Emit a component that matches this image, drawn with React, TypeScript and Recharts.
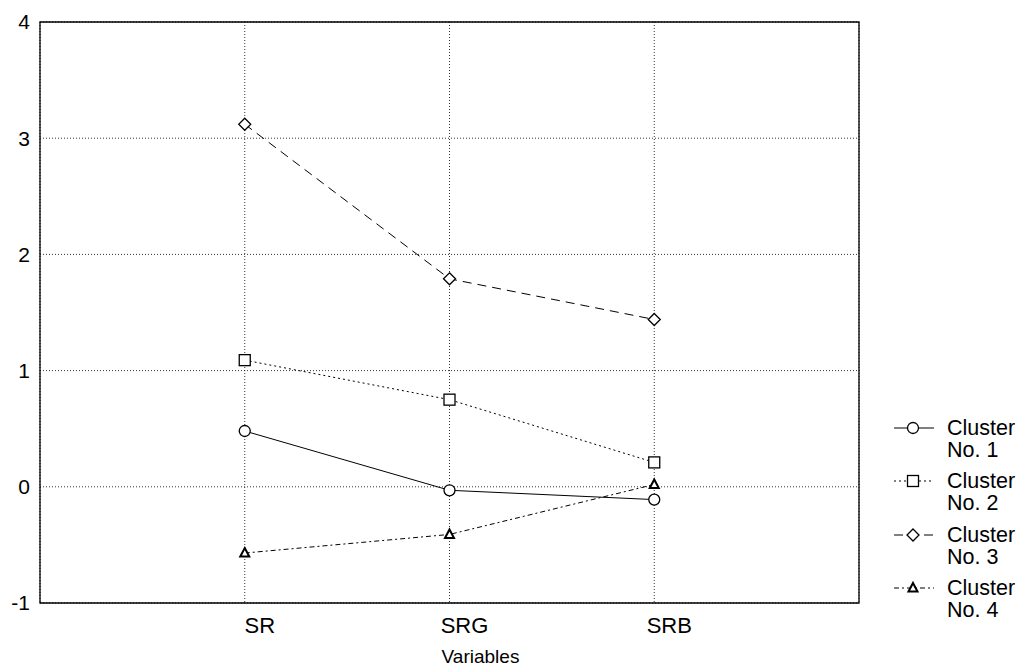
import React from "react";
import {
  LineChart,
  Line,
  XAxis,
  YAxis,
  CartesianGrid,
  ReferenceArea,
} from "recharts";

const categories = ["SR", "SRG", "SRB"];
const cluster1 = [0.48, -0.03, -0.11];
const cluster2 = [1.09, 0.75, 0.21];
const cluster3 = [3.12, 1.79, 1.44];
const cluster4 = [-0.57, -0.41, 0.02];
const seriesNames = ["Cluster No. 1", "Cluster No. 2", "Cluster No. 3", "Cluster No. 4"];
const yTicks = [-1, 0, 1, 2, 3, 4];
const innerTicks = yTicks.slice(0, -1).flatMap((t) => [t, t + 0.25, t + 0.5, t + 0.75]).slice(1);

const data = categories.map((cat, i) => ({
  pos: i + 1,
  cat,
  c1: cluster1[i],
  c2: cluster2[i],
  c3: cluster3[i],
  c4: cluster4[i],
}));

const FONT = "'Liberation Sans', Arial, sans-serif";

type Shape = "circle" | "square" | "diamond" | "triangle";

function Marker({ shape, cx, cy }: { shape: Shape; cx: number; cy: number }) {
  if (shape === "circle")
    return <circle cx={cx} cy={cy} r={5.5} fill="#fff" stroke="#000" strokeWidth={1.3} />;
  if (shape === "square")
    return <rect x={cx - 5.5} y={cy - 5.5} width={11} height={11} fill="#fff" stroke="#000" strokeWidth={1.3} />;
  if (shape === "diamond")
    return (
      <polygon
        points={`${cx},${cy - 6} ${cx + 6},${cy} ${cx},${cy + 6} ${cx - 6},${cy}`}
        fill="#fff"
        stroke="#000"
        strokeWidth={1.3}
      />
    );
  return (
    <polygon
      points={`${cx},${cy - 5} ${cx + 4.5},${cy + 3.5} ${cx - 4.5},${cy + 3.5}`}
      fill="#fff"
      stroke="#000"
      strokeWidth={2}
    />
  );
}

const series = [
  { key: "c1", shape: "circle" as Shape, dash: undefined },
  { key: "c2", shape: "square" as Shape, dash: "2 3" },
  { key: "c3", shape: "diamond" as Shape, dash: "9 6" },
  { key: "c4", shape: "triangle" as Shape, dash: "5 3 2 3" },
];

function makeDot(shape: Shape) {
  return (props: { cx?: number; cy?: number; index?: number }) => (
    <Marker key={`${shape}-${props.index}`} shape={shape} cx={props.cx ?? 0} cy={props.cy ?? 0} />
  );
}

function ClusterLegend() {
  return (
    <div
      style={{
        position: "absolute",
        left: 892,
        top: 417,
        width: 126,
        fontFamily: FONT,
        fontSize: 21.5,
        color: "#000",
      }}
    >
      {series.map((s, i) => {
        const words = seriesNames[i].split(" ");
        return (
          <div key={s.key} style={{ display: "flex", alignItems: "flex-start", height: 53.3 }}>
            <svg width={55} height={22} style={{ flex: "none" }}>
              <line x1={2} x2={42} y1={11} y2={11} stroke="#000" strokeWidth={1} strokeDasharray={s.dash} />
              <Marker shape={s.shape} cx={21} cy={11} />
            </svg>
            <div style={{ lineHeight: "22px", whiteSpace: "nowrap" }}>
              <div>{words[0]}</div>
              <div>{words.slice(1).join(" ")}</div>
            </div>
          </div>
        );
      })}
    </div>
  );
}

export default function App() {
  return (
    <div style={{ position: "absolute", left: 0, top: 0, width: 1018, height: 668, background: "#fff" }}>
      <LineChart
        width={1018}
        height={668}
        data={data}
        margin={{ top: 22, right: 159, bottom: 0, left: 0 }}
      >
        <CartesianGrid stroke="#000" strokeDasharray="1 2" strokeWidth={0.8} />
        <XAxis
          dataKey="pos"
          type="number"
          domain={[0, 4]}
          ticks={[1, 2, 3]}
          tickFormatter={(v: number) => categories[v - 1] ?? ""}
          tickLine={false}
          axisLine={false}
          tickSize={0}
          tickMargin={14}
          tick={{ fontSize: 22, fill: "#000", fontFamily: FONT, dx: 15 }}
          height={65}
          label={{
            value: "Variables",
            position: "insideBottom",
            offset: 5,
            dx: 31,
            style: { fontSize: 19, fill: "#000", fontFamily: FONT },
          }}
        />
        <YAxis
          domain={[-1, 4]}
          ticks={yTicks}
          tickLine={false}
          axisLine={false}
          width={40}
          tickSize={0}
          tickMargin={10}
          tick={{ fontSize: 21, fill: "#000", fontFamily: FONT }}
        />
        <YAxis
          yAxisId="innerL"
          domain={[-1, 4]}
          ticks={innerTicks}
          tick={false}
          axisLine={false}
          width={0}
          mirror
          tickSize={4}
          stroke="#000"
        />
        <YAxis
          yAxisId="innerR"
          orientation="right"
          domain={[-1, 4]}
          ticks={innerTicks}
          tick={false}
          axisLine={false}
          width={0}
          mirror
          tickSize={4}
          stroke="#000"
        />
        <ReferenceArea x1={0} x2={4} y1={-1} y2={4} fill="none" stroke="#000" strokeWidth={1.3} ifOverflow="visible" />
        {series.map((s, i) => (
          <Line
            key={s.key}
            dataKey={s.key}
            name={seriesNames[i]}
            type="linear"
            stroke="#000"
            strokeWidth={1}
            strokeDasharray={s.dash}
            dot={makeDot(s.shape)}
            activeDot={false}
            isAnimationActive={false}
          />
        ))}
      </LineChart>
      <ClusterLegend />
    </div>
  );
}
